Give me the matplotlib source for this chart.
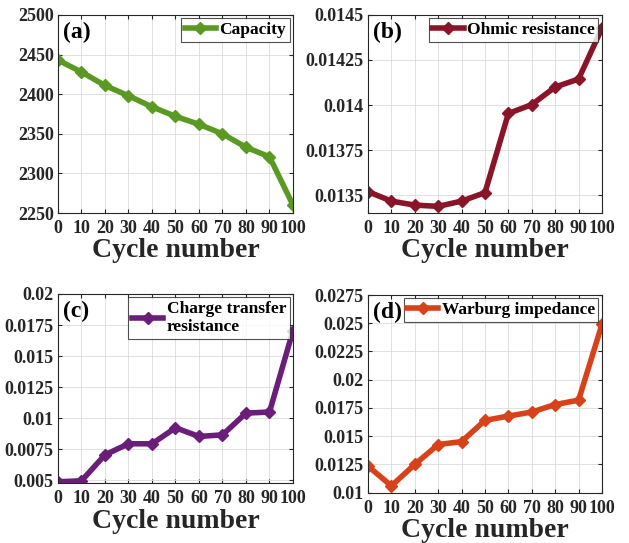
import matplotlib

matplotlib.use("Agg")
import matplotlib.pyplot as plt
from matplotlib.ticker import FuncFormatter

plt.rcParams["font.family"] = ["Liberation Serif", "DejaVu Serif"]
plt.rcParams["font.weight"] = "bold"

cycles = [0, 10, 20, 30, 40, 50, 60, 70, 80, 90, 100]

capacity = [2443, 2428, 2411, 2398, 2384, 2372, 2362, 2350, 2333, 2321, 2260]
ohmic = [0.013519, 0.013466, 0.013444, 0.013437, 0.013466, 0.013513,
         0.013953, 0.014002, 0.014100, 0.014144, 0.014427]
charge_transfer = [0.00487, 0.00495, 0.00704, 0.00793, 0.00793, 0.00922,
                   0.00852, 0.00865, 0.01040, 0.01049, 0.01704]
warburg = [0.01235, 0.01060, 0.01250, 0.01426, 0.01452, 0.01640,
           0.01678, 0.01714, 0.01780, 0.01819, 0.02490]

panels = [
    # label, data, legend text, colour, y limits, y ticks, axes rect
    ("(a)", capacity, "Capacity", "#5a9a22", (2250, 2500),
     [2250, 2300, 2350, 2400, 2450, 2500], [0.0922, 0.6077, 0.3736, 0.3647]),
    ("(b)", ohmic, "Ohmic resistance", "#8a1428", (0.0134, 0.0145),
     [0.0135, 0.01375, 0.014, 0.01425, 0.0145], [0.585, 0.6077, 0.372, 0.3647]),
    ("(c)", charge_transfer, "Charge transfer\nresistance", "#6a1e7a", (0.00475, 0.02),
     [0.005, 0.0075, 0.01, 0.0125, 0.015, 0.0175, 0.02], [0.0922, 0.110, 0.3736, 0.3486]),
    ("(d)", warburg, "Warburg impedance", "#d8421a", (0.01, 0.0275),
     [0.01, 0.0125, 0.015, 0.0175, 0.02, 0.0225, 0.025, 0.0275],
     [0.585, 0.0927, 0.372, 0.3640]),
]

fig = plt.figure(figsize=(6.29, 5.43), dpi=100)

for label, werte, name, farbe, ylim, yticks, rect in panels:
    ax = fig.add_axes(rect)
    ax.plot(cycles, werte, "-D", color=farbe, linewidth=4.0, markersize=6,
            label=name)
    ax.set_xlim(0, 100)
    ax.set_ylim(*ylim)
    ax.set_xticks(cycles)
    ax.set_yticks(yticks)
    ax.yaxis.set_major_formatter(FuncFormatter(lambda v, _: f"{v:g}"))
    ax.tick_params(direction="in", top=True, right=True, length=3,
                   labelsize=13, pad=3, colors="#262626")
    ax.tick_params(axis="x", pad=5)
    for lbl in ax.get_xticklabels() + ax.get_yticklabels():
        lbl.set_fontweight("bold")
    for spine in ax.spines.values():
        spine.set_color("#262626")
        spine.set_linewidth(0.8)
    ax.grid(True, color="#dcdcdc", linewidth=0.6)
    ax.set_axisbelow(True)
    ax.set_xlabel("Cycle number", fontsize=20, fontweight="bold",
                  color="#262626", labelpad=1)
    ax.text(0.02, 0.91, label, transform=ax.transAxes, fontsize=17,
            fontweight="bold", va="center", ha="left")
    leg = ax.legend(loc="upper right", fontsize=12.5, fancybox=False,
                    handlelength=1.8, handletextpad=0.2, borderpad=0.2,
                    borderaxespad=0.2, labelspacing=0.05)
    leg.get_frame().set_edgecolor("#262626")
    leg.get_frame().set_linewidth(0.8)
    for t in leg.get_texts():
        t.set_fontweight("bold")

fig.savefig("out.png", dpi=100)
plt.close(fig)
